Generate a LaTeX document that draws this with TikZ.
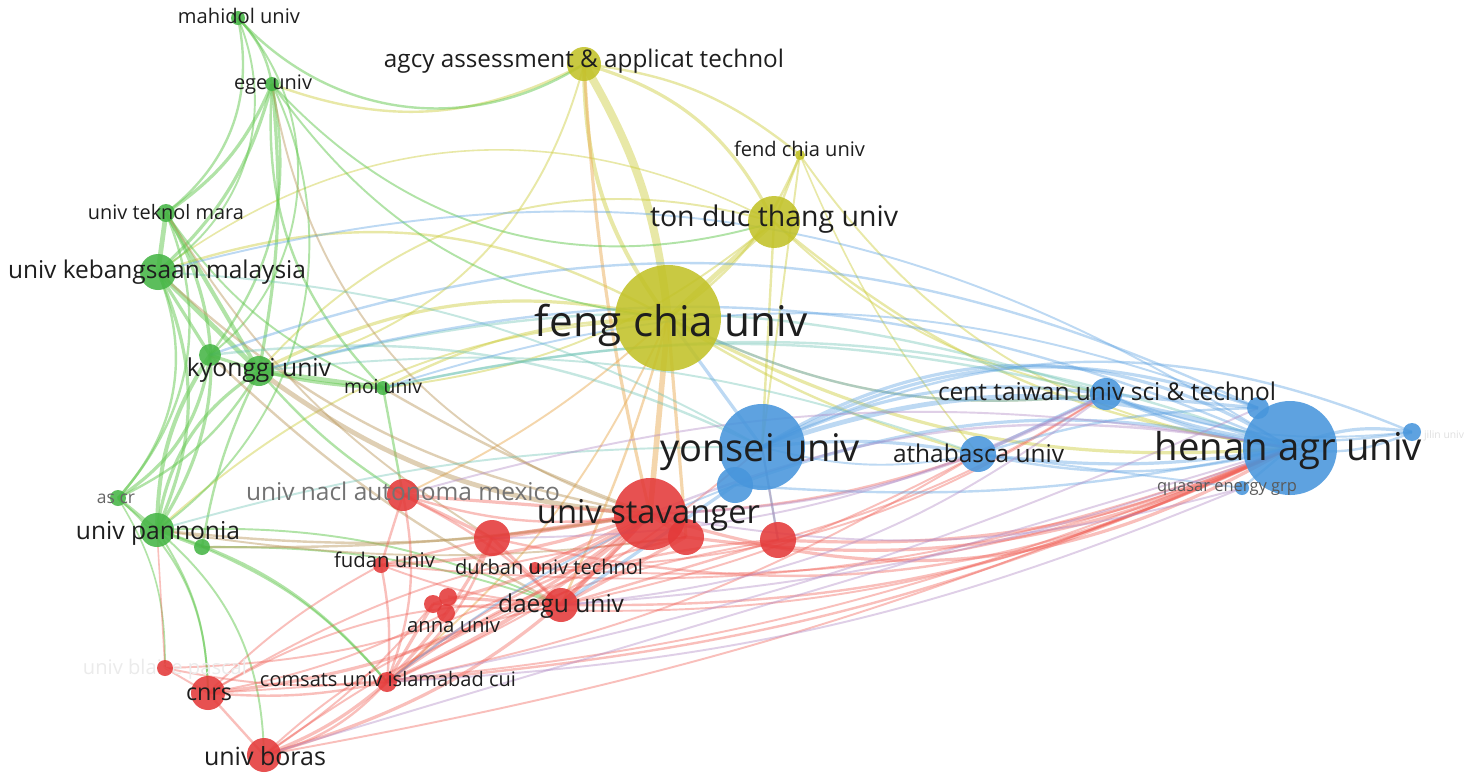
\documentclass[tikz,border=0pt]{standalone}
\usepackage{fontspec}
\setmainfont{Open Sans}
\newdimen\pxu \pxu=0.5pt
\newcommand\lbl[2]{\resizebox{#1\pxu}{!}{#2}}
\definecolor{cY}{RGB}{194,194,40}
\definecolor{cB}{RGB}{72,150,220}
\definecolor{cR}{RGB}{228,58,58}
\definecolor{cG}{RGB}{70,182,70}
\definecolor{eYc}{RGB}{205,205,60}
\definecolor{eBc}{RGB}{90,160,225}
\definecolor{eRc}{RGB}{240,95,85}
\definecolor{eGc}{RGB}{100,200,80}
\definecolor{eOc}{RGB}{235,175,90}
\definecolor{ePc}{RGB}{175,135,195}
\definecolor{eTc}{RGB}{110,195,180}
\definecolor{eNc}{RGB}{185,150,90}
\definecolor{txt}{RGB}{30,30,30}
\tikzset{
  nd/.style={circle,inner sep=0pt,fill opacity=.88,draw=none},
  nY/.style={nd,fill=cY}, nB/.style={nd,fill=cB}, nR/.style={nd,fill=cR}, nG/.style={nd,fill=cG},
  eY/.style={draw=eYc,opacity=.45,line width=#1*0.8pt}, eY/.default=1.5,
  eB/.style={draw=eBc,opacity=.4,line width=#1*0.8pt}, eB/.default=1.5,
  eR/.style={draw=eRc,opacity=.4,line width=#1*0.8pt}, eR/.default=1.5,
  eG/.style={draw=eGc,opacity=.5,line width=#1*0.8pt}, eG/.default=1.5,
  eO/.style={draw=eOc,opacity=.5,line width=#1*0.8pt}, eO/.default=1.5,
  eP/.style={draw=ePc,opacity=.4,line width=#1*0.8pt}, eP/.default=1.5,
  eT/.style={draw=eTc,opacity=.4,line width=#1*0.8pt}, eT/.default=1.5,
  eN/.style={draw=eNc,opacity=.45,line width=#1*0.8pt}, eN/.default=1.5,
  lab/.style={inner sep=0pt,text=txt,anchor=base},
}
\newcommand\edges[2]{\foreach \a/\b/\c/\w in {#2}{%
  \pgfmathsetmacro\bb{1.6*\c}\draw[#1=\w] (\a) to[bend left=\bb] (\b);}}
\begin{document}
\begin{tikzpicture}[x=0.5pt,y=-0.5pt]
\fill[white] (0,0) rectangle (1467,778);
\useasboundingbox (0,0) rectangle (1467,778);
% ---- node positions
\foreach \n/\x/\y in {fc/668/318,tdt/774/222,agcy/584/64,fend/800/155,ys/762/447,ys2/735/485,
  ath/978/454,ctu/1106/394,hen/1290/448,hentwo/1258/408,jil/1412/432,qua/1242/488,
  sta/650/514,rone/686/537,rtwo/778/540,rthree/492/538,unam/403/495,fud/381/565,dur/535/568,
  dae/561/605,anone/433/604,antwo/448/597,anthree/446/613,com/387/682,cnrs/208/693,bor/264/755,
  bla/165/668,kyo/259/371,kyotwo/210/355,moi/383/388,ukm/158/272,utm/166/213,ege/272/84,
  mah/238/18,ascr/118/498,pan/157/530,gtwo/202/547}
  \coordinate (\n) at (\x,\y);
% ---- edges
\edges{eY}{fc/tdt/0/3,agcy/tdt/15/2,agcy/fend/10/1.5,tdt/fend/0/1.5,fend/fc/10/1.5,
  fend/hen/-15/1.2,tdt/hen/-10/1.5,tdt/ctu/-10/1.2,fc/hen/-10/2,fc/ctu/-10/1.5,kyo/fc/12/2,ukm/fc/15/1.5,
  pan/fc/12/1.2,kyo/tdt/20/1.2,ukm/tdt/20/1,fend/ys/0/1.2,fend/ath/-5/1,fc/ath/-5/1.5,kyo/agcy/-20/1.2,
  tdt/ys/0/1.5,moi/fc/8/1.5,agcy/ege/15/1.5,tdt/moi/10/1.2}
\draw[eY=5] (agcy) to[bend left=12] (fc);
\draw[eY=2.5] (agcy) to[bend right=18] (fc);
\edges{eO}{fc/sta/0/3.5,fc/dae/3/1.5,com/fc/-8/1.2,unam/fc/-5/1.2,agcy/sta/-3/2,fc/rone/0/2}
\edges{eG}{mah/ege/10/1.5,mah/utm/20/1.5,mah/ukm/25/1.2,mah/agcy/-25/1.5,ege/utm/10/2,
  ege/ukm/10/2,ege/kyo/5/2,ege/moi/-15/1.5,ege/pan/25/1.2,ege/tdt/-20/1.2,ege/fc/-15/1.2,
  utm/ukm/0/3,utm/kyo/0/2.5,utm/pan/20/2,utm/ascr/20/1.5,ukm/kyo/0/3,ukm/pan/15/2,ukm/ascr/20/1.5,
  ukm/kyotwo/0/2,kyotwo/pan/-10/2.5,kyotwo/ascr/15/2,kyo/pan/-15/2,kyo/moi/0/3,kyo/gtwo/-5/1.5,
  kyo/unam/-5/1.5,moi/unam/0/1.5,pan/ascr/0/2,pan/gtwo/0/2,pan/cnrs/10/1.2,pan/bor/15/1.2,
  pan/com/10/1.5,pan/dae/8/1.2,gtwo/com/8/1.2,gtwo/dae/6/1.2,ascr/cnrs/15/1.2,ascr/bla/10/1,
  utm/moi/-10/1.2,kyotwo/moi/-5/2,ege/kyotwo/15/1.5,mah/kyotwo/30/1.2,kyo/ascr/10/1.5}
\edges{eN}{kyo/sta/-10/3,ege/sta/-20/1.2,moi/sta/-3/1.5,pan/sta/-5/1.5,gtwo/sta/-3/1.5,
  ukm/sta/-10/1.5,kyotwo/dae/-5/1.5,utm/rthree/-8/1.2,pan/rone/-5/1.2}
\edges{eT}{kyo/ctu/10/1.5,moi/ctu/8/1.5,ukm/ys/8/1.2,pan/ys/5/1.2,kyo/ath/8/1.2,
  kyotwo/ys/10/1.5,moi/hen/10/1.5}
\edges{eR}{sta/dae/0/3,sta/com/5/2.5,sta/cnrs/10/2,sta/bor/10/2,sta/fud/5/2,sta/unam/0/2,
  sta/anone/5/2,sta/dur/0/2,sta/rthree/0/3,sta/rone/0/3,sta/hen/-15/2,sta/ath/-5/1.5,rone/hen/-10/2,
  rtwo/hen/-8/2,rthree/hen/-12/1.5,com/hen/-6/1.5,dae/hen/-8/1.5,cnrs/hen/-6/1.2,bor/hen/-4/1.2,
  fud/hen/-8/1.2,anone/hen/-9/1.2,dur/hen/-8/1.2,com/cnrs/5/1.5,com/bor/10/1.5,cnrs/bor/0/1.5,
  bla/com/-5/1.2,bla/cnrs/0/1.2,bla/sta/-10/1.2,fud/com/5/1.5,fud/unam/0/1.5,unam/dae/5/1.5,
  unam/com/10/1.5,anone/com/0/2,antwo/dae/0/2,rthree/com/5/2,rthree/fud/0/1.5,rthree/dae/0/2,
  dae/ath/-5/1.2,com/rtwo/10/1.5,com/rone/8/1.5,rone/dae/0/2,rtwo/dae/0/1.5,bor/dae/10/1.2,
  cnrs/dae/10/1.2,unam/rthree/0/2,rtwo/ys/0/1.2,rtwo/ctu/-5/1.2,com/ys/-5/1.2,dur/ctu/-10/1.2,
  cnrs/fud/5/1.2,bor/com/-6/2,bor/anone/-5/1.2,cnrs/anthree/-5/1.2,com/rthree/-10/1.5,
  fud/dae/-5/1.2,unam/sta/-8/1.5,bla/pan/0/1,com/ath/-6/1.2,bor/rtwo/8/1.2,cnrs/rone/8/1.2}
\edges{eB}{ys/hen/12/3,ys/hen/20/2,ys/ctu/10/2,ys/ath/5/2,ys/jil/15/1.5,ys2/hen/10/2,
  ys/hentwo/15/2,hen/ctu/5/2,hen/ath/5/2,hen/jil/10/2,jil/hen/10/1.5,hen/qua/0/1.5,hentwo/ctu/0/2,
  ctu/ath/0/2,ys2/dae/0/2,ys2/com/-5/1.2,kyo/hen/12/1.5,ukm/hen/15/1.2,kyotwo/hentwo/14/1.5,
  jil/ctu/10/1.5,ath/hentwo/5/1.5,ys/rtwo/0/1.5,ctu/fc/10/1.5,ys/fc/0/2,ctu/jil/-8/1.2,
  ath/hen/-8/1.5,ys2/hen/-5/1.5,moi/hentwo/12/1.2,ys/ath/-8/1.2,qua/ath/0/1.2}
\edges{eP}{sta/hen/10/1.5,dae/hen/-5/1.2,unam/hen/8/1.2,qua/sta/8/1.2,qua/com/6/1.2,
  rthree/ctu/-8/1.2,com/hentwo/-4/1.2,bor/hen/0/1.2,sta/ctu/-8/1.5,dae/ctu/-10/1.2}
% ---- faint labels under nodes
\node[lab,text=black!8] (Lbla) at (165,674) {\lbl{164}{univ blaise pascal}};
\node[lab,text=black!12] (Ljil) at (1444,438) {\lbl{40}{jilin univ}};
% ---- nodes
\node[nY,minimum size=53pt] (Nfc) at (fc) {};
\node[nY,minimum size=26pt] (Ntdt) at (tdt) {};
\node[nY,minimum size=17pt] (Nagcy) at (agcy) {};
\node[nY,minimum size=5pt] (Nfend) at (fend) {};
\node[nB,minimum size=18pt] (Nys2) at (ys2) {};
\node[nB,minimum size=43pt] (Nys) at (ys) {};
\node[nB,minimum size=18pt] (Nath) at (ath) {};
\node[nB,minimum size=16pt] (Nctu) at (ctu) {};
\node[nB,minimum size=47pt] (Nhen) at (hen) {};
\node[nB,minimum size=11pt] (Nhentwo) at (hentwo) {};
\node[nB,minimum size=9pt] (Njil) at (jil) {};
\node[nB,minimum size=7pt] (Nqua) at (qua) {};
\node[nR,minimum size=36pt] (Nsta) at (sta) {};
\node[nR,minimum size=18pt] (Nrone) at (rone) {};
\node[nR,minimum size=18pt] (Nrtwo) at (rtwo) {};
\node[nR,minimum size=18pt] (Nrthree) at (rthree) {};
\node[nR,minimum size=16pt] (Nunam) at (unam) {};
\node[nR,minimum size=8pt] (Nfud) at (fud) {};
\node[nR,minimum size=6pt] (Ndur) at (dur) {};
\node[nR,minimum size=17pt] (Ndae) at (dae) {};
\node[nR,minimum size=9pt] (Nanone) at (anone) {};
\node[nR,minimum size=9pt] (Nantwo) at (antwo) {};
\node[nR,minimum size=9pt] (Nanthree) at (anthree) {};
\node[nR,minimum size=10pt] (Ncom) at (com) {};
\node[nR,minimum size=17pt] (Ncnrs) at (cnrs) {};
\node[nR,minimum size=17pt] (Nbor) at (bor) {};
\node[nR,minimum size=8pt] (Nbla) at (bla) {};
\node[nG,minimum size=15pt] (Nkyo) at (kyo) {};
\node[nG,minimum size=11pt] (Nkyotwo) at (kyotwo) {};
\node[nG,minimum size=7pt] (Nmoi) at (moi) {};
\node[nG,minimum size=18pt] (Nukm) at (ukm) {};
\node[nG,minimum size=9pt] (Nutm) at (utm) {};
\node[nG,minimum size=7pt] (Nege) at (ege) {};
\node[nG,minimum size=7pt] (Nmah) at (mah) {};
\node[nG,minimum size=8pt] (Nascr) at (ascr) {};
\node[nG,minimum size=17pt] (Npan) at (pan) {};
\node[nG,minimum size=8pt] (Ngtwo) at (gtwo) {};
% ---- labels
\node[lab] (Lfc) at (671.5,336) {\lbl{273}{feng chia univ}};
\node[lab] (Lys) at (760,461) {\lbl{200}{yonsei univ}};
\node[lab] (Lhen) at (1288.5,460) {\lbl{267}{henan agr univ}};
\node[lab] (Lsta) at (648.5,523) {\lbl{223}{univ stavanger}};
\node[lab] (Ltdt) at (774,226) {\lbl{248}{ton duc thang univ}};
\node[lab] (Lukm) at (157,278) {\lbl{298}{univ kebangsaan malaysia}};
\node[lab] (Lkyo) at (259,376) {\lbl{144}{kyonggi univ}};
\node[lab] (Lpan) at (158,539) {\lbl{164}{univ pannonia}};
\node[lab] (Lagcy) at (584,67) {\lbl{400}{agcy assessment \& applicat technol}};
\node[lab] (Lctu) at (1107,400) {\lbl{338}{cent taiwan univ sci \& technol}};
\node[lab] (Lath) at (978.5,462) {\lbl{171}{athabasca univ}};
\node[lab,text=black!55] (Lunam) at (403,500) {\lbl{314}{univ nacl autonoma mexico}};
\node[lab] (Ldae) at (561,612) {\lbl{126}{daegu univ}};
\node[lab] (Lcnrs) at (209,700) {\lbl{46}{cnrs}};
\node[lab] (Lbor) at (265,765) {\lbl{122}{univ boras}};
\node[lab] (Lcom) at (388,686) {\lbl{256}{comsats univ islamabad cui}};
\node[lab] (Ldur) at (549,574) {\lbl{188}{durban univ technol}};
\node[lab] (Lfud) at (384.5,567) {\lbl{101}{fudan univ}};
\node[lab] (Lan) at (453.5,632) {\lbl{93}{anna univ}};
\node[lab] (Lmoi) at (383,393) {\lbl{78}{moi univ}};
\node[lab] (Lutm) at (166,219) {\lbl{156}{univ teknol mara}};
\node[lab] (Lege) at (273,89) {\lbl{78}{ege univ}};
\node[lab] (Lmah) at (239,23) {\lbl{122}{mahidol univ}};
\node[lab] (Lfend) at (799.5,156) {\lbl{131}{fend chia univ}};
\node[lab,text=black!65] (Lqua) at (1227,491) {\lbl{140}{quasar energy grp}};
\node[lab,text=black!60] (Lascr) at (116,503) {\lbl{38}{as cr}};
\end{tikzpicture}
\end{document}
